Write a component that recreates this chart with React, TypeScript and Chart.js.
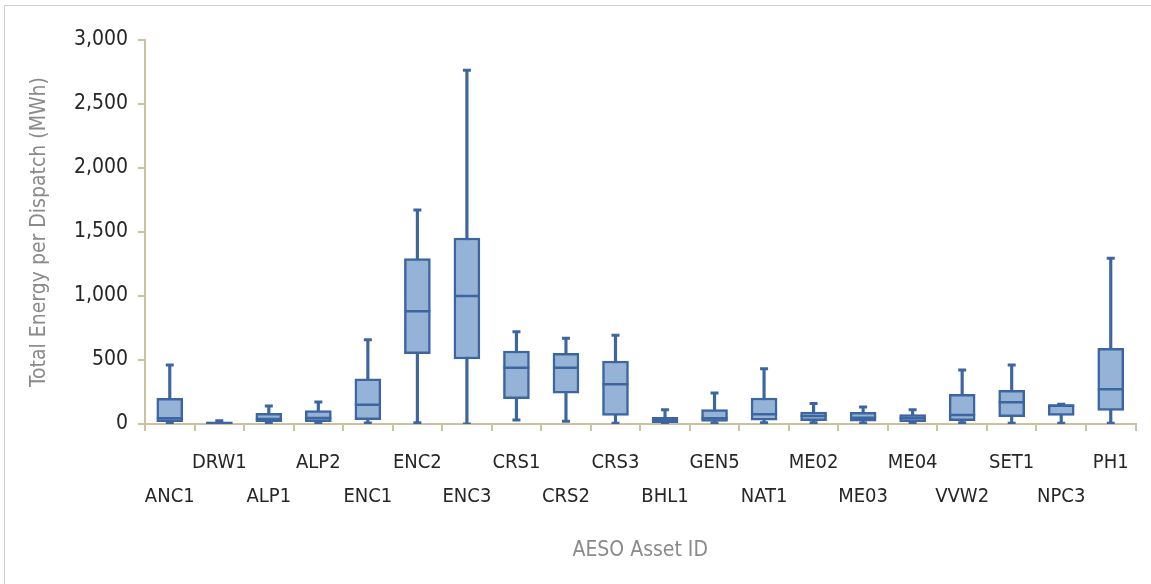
import React, { useEffect, useRef } from "react";
import { Chart, registerables } from "chart.js";

Chart.register(...registerables);

const categories = [
  "ANC1", "DRW1", "ALP1", "ALP2", "ENC1", "ENC2", "ENC3", "CRS1", "CRS2", "CRS3",
  "BHL1", "GEN5", "NAT1", "ME02", "ME03", "ME04", "VVW2", "SET1", "NPC3", "PH1",
];
const minValues = [5, 0, 5, 5, 8, 10, 0, 31, 21, 5, 5, 8, 10, 10, 8, 5, 10, 5, 5, 5];
const q1Values = [18, 3, 18, 18, 34, 549, 508, 198, 240, 68, 10, 21, 29, 26, 23, 16, 26, 57, 68, 107];
const medianValues = [44, 8, 39, 47, 151, 880, 1000, 440, 440, 310, 34, 44, 76, 63, 49, 44, 70, 169, 145, 271];
const q3Values = [200, 15, 83, 104, 352, 1292, 1453, 570, 552, 492, 52, 112, 203, 94, 91, 73, 232, 263, 150, 591];
const maxValues = [461, 25, 141, 172, 659, 1672, 2763, 721, 669, 693, 112, 242, 432, 161, 133, 112, 422, 461, 155, 1294];
const yTicks = [0, 500, 1000, 1500, 2000, 2500, 3000];

const FONT = "'Liberation Sans Narrow', 'DejaVu Sans Condensed', 'Roboto', sans-serif";
const BOX_FILL = "#95b3d7";
const BOX_LINE = "#3d66a1";
const AXIS = "#cbc39f";

export default function App() {
  const ref = useRef<HTMLCanvasElement | null>(null);

  useEffect(() => {
    if (!ref.current) return;
    const labels = categories.map((c, i) => (i % 2 === 1 ? [c, ""] : ["", c]));
    const chart = new Chart(ref.current, {
      type: "bar",
      data: {
        labels,
        datasets: [
          {
            type: "line",
            data: medianValues,
            showLine: false,
            pointStyle: "line",
            pointRadius: 13,
            pointHoverRadius: 13,
            pointBorderWidth: 2.5,
            borderColor: BOX_LINE,
            backgroundColor: BOX_LINE,
            order: 1,
          } as any,
          {
            type: "line",
            data: maxValues,
            showLine: false,
            pointStyle: "line",
            pointRadius: 4,
            pointHoverRadius: 4,
            pointBorderWidth: 3,
            borderColor: BOX_LINE,
            backgroundColor: BOX_LINE,
            order: 1,
          } as any,
          {
            type: "line",
            data: minValues,
            showLine: false,
            pointStyle: "line",
            pointRadius: 4,
            pointHoverRadius: 4,
            pointBorderWidth: 3,
            borderColor: BOX_LINE,
            backgroundColor: BOX_LINE,
            order: 1,
          } as any,
          {
            type: "bar",
            data: categories.map((_, i) => [q1Values[i], q3Values[i]]),
            backgroundColor: BOX_FILL,
            borderColor: BOX_LINE,
            borderWidth: 2.5,
            borderSkipped: false,
            barThickness: 26,
            grouped: false,
            order: 2,
          } as any,
          {
            type: "bar",
            data: categories.map((_, i) => [minValues[i], maxValues[i]]),
            backgroundColor: BOX_LINE,
            borderWidth: 0,
            barThickness: 2.5,
            grouped: false,
            order: 3,
          } as any,
        ],
      },
      options: {
        animation: false,
        responsive: true,
        maintainAspectRatio: false,
        layout: { padding: { left: 10, top: 40, right: 11, bottom: 0 } },
        plugins: { legend: { display: false }, tooltip: { enabled: false } },
        scales: {
          x: {
            grid: {
              display: true,
              drawOnChartArea: false,
              tickLength: 7,
              color: AXIS,
              lineWidth: 2,
              offset: true,
            },
            border: { color: AXIS, width: 2 },
            ticks: {
              autoSkip: false,
              maxRotation: 0,
              minRotation: 0,
              padding: 15,
              color: "#262626",
              font: { family: FONT, size: 20, lineHeight: 1.7 },
            },
            title: {
              display: true,
              text: "AESO Asset ID",
              color: "#8a8a8a",
              font: { family: FONT, size: 21, lineHeight: 1.2 },
              padding: { top: 0, bottom: 21 },
            },
            afterFit: (scale: any) => {
              scale.height = 160;
            },
          },
          y: {
            min: 0,
            max: 3000,
            afterBuildTicks: (scale: any) => {
              scale.ticks = yTicks.map((v) => ({ value: v }));
            },
            grid: {
              display: true,
              drawOnChartArea: false,
              tickLength: 7,
              color: AXIS,
              lineWidth: 2,
            },
            border: { color: AXIS, width: 2 },
            ticks: {
              padding: 10,
              color: "#262626",
              font: { family: FONT, size: 21 },
              callback: (v: any) => Number(v).toLocaleString("en-US"),
            },
            title: {
              display: true,
              text: "Total Energy per Dispatch (MWh)",
              color: "#8a8a8a",
              font: { family: FONT, size: 21, lineHeight: 1.2 },
              padding: { top: 17, bottom: 0 },
            },
            afterFit: (scale: any) => {
              scale.width = 135;
            },
          },
        },
      },
    });
    return () => chart.destroy();
  }, []);

  return (
    <div style={{ position: "fixed", left: 0, top: 0, width: 1151, height: 584, background: "#fff" }}>
      <div
        style={{
          position: "absolute",
          left: 4,
          top: 5,
          width: 1300,
          height: 700,
          borderTop: "1px solid #cfcfcf",
          borderLeft: "1px solid #cfcfcf",
        }}
      />
      <div style={{ position: "absolute", left: 0, top: 0, width: 1151, height: 584 }}>
        <canvas ref={ref} />
      </div>
    </div>
  );
}
